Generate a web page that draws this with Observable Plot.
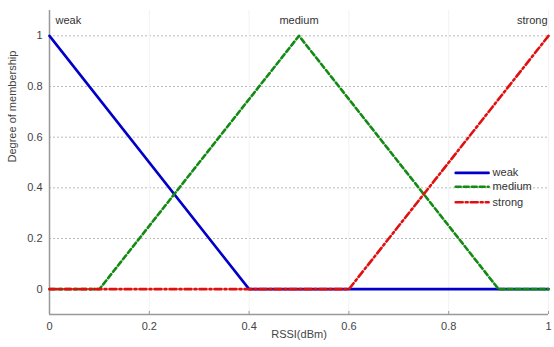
<!DOCTYPE html>
<html><head><meta charset="utf-8">
<script src="https://cdn.jsdelivr.net/npm/d3@7"></script>
<script src="https://cdn.jsdelivr.net/npm/@observablehq/plot@0.6"></script>
<style>
body{margin:0;background:#fff;font-family:"Liberation Sans",Arial,sans-serif;}
</style>
</head><body>
<div id="chart"></div>
<script>
const seriesNames = ["weak", "medium", "strong"];
const weakX = [0, 0.4, 1];
const weakY = [1, 0, 0];
const mediumX = [0, 0.1, 0.5, 0.9, 1];
const mediumY = [0, 0, 1, 0, 0];
const strongX = [0, 0.6, 1];
const strongY = [0, 0, 1];
const xTicks = [0, 0.2, 0.4, 0.6, 0.8, 1];
const yTicks = [0, 0.2, 0.4, 0.6, 0.8, 1];
const peakX = [0, 0.5, 1];

const colors = {weak: "#0000c8", medium: "#138a13", strong: "#e01010"};
const dashes = {weak: null, medium: "5,3", strong: "7,3,2,3"};
const toRows = (xs, ys, s) => xs.map((x, i) => ({x, y: ys[i], s}));
const rows = {weak: toRows(weakX, weakY, "weak"), medium: toRows(mediumX, mediumY, "medium"), strong: toRows(strongX, strongY, "strong")};

const W = 554, H = 347;
const legendX = 0.814, legendLen = 0.066, legendY = [0.459, 0.404, 0.343];
const anchors = ["start", "middle", "end"];
const dxs = [6, 0, -1];

const plot = Plot.plot({
  width: W, height: H,
  marginLeft: 49, marginRight: 6, marginTop: 10, marginBottom: 33,
  style: {fontFamily: "Liberation Sans, Arial, sans-serif", fontSize: "11px", color: "#333", background: "#fff"},
  x: {type: "linear", domain: [0, 1], label: null},
  y: {type: "linear", domain: [-0.1, 1.1], label: null},
  marks: [
    Plot.ruleY(yTicks, {stroke: "#bbb", strokeDasharray: "2,2", strokeWidth: 1}),
    Plot.ruleX(xTicks.slice(1), {y1: -0.1, y2: 1.1, stroke: "#f2f2f2", strokeWidth: 1}),
    Plot.ruleY([-0.1], {stroke: "#999", strokeWidth: 1.5}),
    Plot.ruleX([0], {y1: -0.1, y2: 1.1, stroke: "#999", strokeWidth: 1.5}),
    Plot.ruleX(xTicks, {y1: -0.1, y2: -0.088, stroke: "#999"}),
    Plot.axisX({ticks: xTicks, tickFormat: d => String(d), tickSize: 0, tickPadding: 8, fontSize: 11, fill: "#444", label: null}),
    Plot.axisY({ticks: yTicks, tickFormat: d => String(d), tickSize: 0, tickPadding: 7, fontSize: 11, fill: "#444", label: null}),
    ...seriesNames.map(s => Plot.line(rows[s], {x: "x", y: "y", stroke: colors[s], strokeWidth: 2.6, strokeDasharray: dashes[s]})),
    ...seriesNames.map((s, i) => Plot.text([s], {x: peakX[i], y: 1, text: d => d, dy: -15, dx: dxs[i], textAnchor: anchors[i], fill: "#333", fontSize: 11})),
    ...seriesNames.map((s, i) => Plot.line([{x: legendX, y: legendY[i]}, {x: legendX + legendLen, y: legendY[i]}], {x: "x", y: "y", stroke: colors[s], strokeWidth: 2.6, strokeDasharray: dashes[s]})),
    Plot.text(seriesNames.map((s, i) => ({x: legendX + legendLen + 0.008, y: legendY[i], t: s})), {x: "x", y: "y", text: "t", textAnchor: "start", fill: "#333", fontSize: 11}),
    Plot.text(["RSSI(dBm)"], {frameAnchor: "bottom", dy: 23, fill: "#444", fontSize: 11}),
    Plot.text(["Degree of membership"], {frameAnchor: "left", dx: -37, rotate: -90, fill: "#444", fontSize: 11})
  ]
});
document.getElementById("chart").appendChild(plot);
</script>
</body></html>
